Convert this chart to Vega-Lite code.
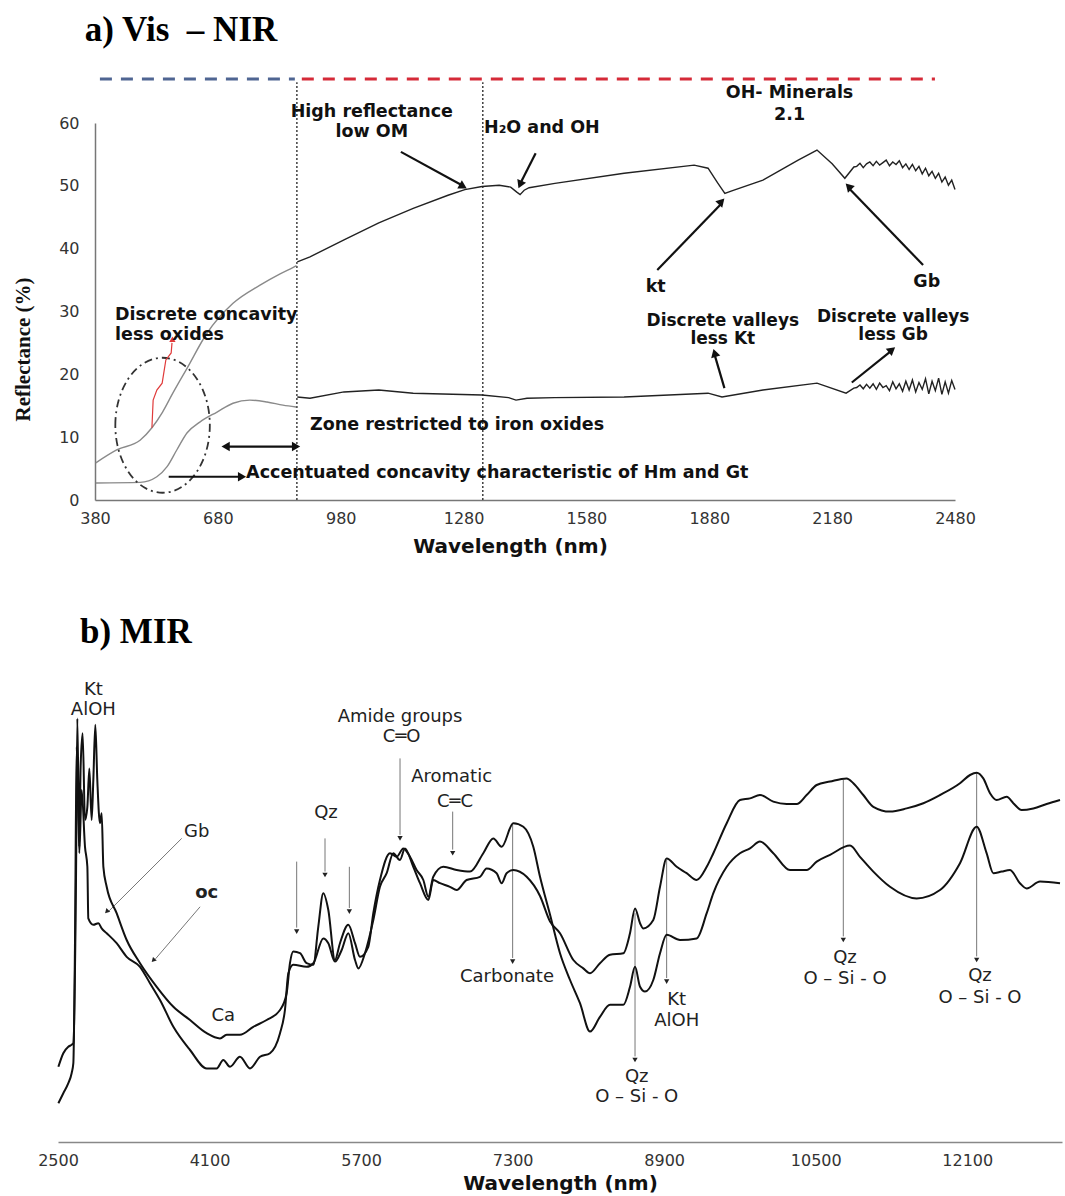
{
"$schema": "https://vega.github.io/schema/vega-lite/v6.json",
"width": 1065, "height": 1196,
"autosize": {"type": "none"},
"padding": 0,
"background": "white",
"config": {"view": {"stroke": null}},
"datasets": {
"aCurve": [
{"wl":382,"r":5.9,"s":"uv"},{"wl":434,"r":8.0,"s":"uv"},{"wl":490,"r":9.5,"s":"uv"},{"wl":519,"r":11.5,"s":"uv"},{"wl":545,"r":14.0,"s":"uv"},{"wl":570,"r":17.0,"s":"uv"},{"wl":605,"r":21.0,"s":"uv"},{"wl":653,"r":26.5,"s":"uv"},{"wl":717,"r":31.3,"s":"uv"},{"wl":783,"r":34.2,"s":"uv"},{"wl":832,"r":36.0,"s":"uv"},{"wl":863,"r":37.0,"s":"uv"},{"wl":872,"r":37.3,"s":"uv"},
{"wl":874,"r":37.9,"s":"un"},{"wl":905,"r":38.7,"s":"un"},{"wl":988,"r":41.4,"s":"un"},{"wl":1073,"r":44.1,"s":"un"},{"wl":1157,"r":46.4,"s":"un"},{"wl":1242,"r":48.5,"s":"un"},{"wl":1283,"r":49.4,"s":"un"},{"wl":1325,"r":49.9,"s":"un"},{"wl":1367,"r":50.1,"s":"un"},{"wl":1395,"r":49.8,"s":"un"},{"wl":1410,"r":49.0,"s":"un"},{"wl":1418,"r":48.6,"s":"un"},{"wl":1428,"r":49.3,"s":"un"},{"wl":1440,"r":49.7,"s":"un"},{"wl":1503,"r":50.4,"s":"un"},{"wl":1672,"r":52.0,"s":"un"},{"wl":1843,"r":53.3,"s":"un"},{"wl":1877,"r":52.8,"s":"un"},{"wl":1900,"r":50.5,"s":"un"},{"wl":1918,"r":48.8,"s":"un"},{"wl":1935,"r":49.2,"s":"un"},{"wl":2011,"r":50.9,"s":"un"},{"wl":2097,"r":54.1,"s":"un"},{"wl":2143,"r":55.7,"s":"un"},{"wl":2180,"r":53.5,"s":"un"},{"wl":2211,"r":51.2,"s":"un"},{"wl":2233,"r":53.0,"s":"un"},
{"wl":2240,"r":53.1,"s":"un"},{"wl":2248,"r":53.6,"s":"un"},{"wl":2256,"r":52.9,"s":"un"},{"wl":2264,"r":53.5,"s":"un"},{"wl":2272,"r":53.8,"s":"un"},{"wl":2280,"r":53.2,"s":"un"},{"wl":2288,"r":53.9,"s":"un"},{"wl":2296,"r":53.3,"s":"un"},{"wl":2304,"r":53.7,"s":"un"},{"wl":2312,"r":54.1,"s":"un"},{"wl":2320,"r":53.2,"s":"un"},{"wl":2328,"r":53.8,"s":"un"},{"wl":2336,"r":53.4,"s":"un"},{"wl":2344,"r":54.0,"s":"un"},{"wl":2352,"r":52.9,"s":"un"},{"wl":2360,"r":53.5,"s":"un"},{"wl":2368,"r":52.6,"s":"un"},{"wl":2376,"r":53.4,"s":"un"},{"wl":2384,"r":52.4,"s":"un"},{"wl":2392,"r":53.1,"s":"un"},{"wl":2400,"r":51.9,"s":"un"},{"wl":2408,"r":52.8,"s":"un"},{"wl":2416,"r":51.6,"s":"un"},{"wl":2424,"r":52.3,"s":"un"},{"wl":2432,"r":51.2,"s":"un"},{"wl":2440,"r":52.0,"s":"un"},{"wl":2448,"r":50.6,"s":"un"},{"wl":2456,"r":51.4,"s":"un"},{"wl":2464,"r":50.1,"s":"un"},{"wl":2472,"r":50.9,"s":"un"},{"wl":2480,"r":49.4,"s":"un"},
{"wl":382,"r":2.7,"s":"lv"},{"wl":490,"r":2.8,"s":"lv"},{"wl":531,"r":3.7,"s":"lv"},{"wl":556,"r":5.3,"s":"lv"},{"wl":580,"r":8.0,"s":"lv"},{"wl":605,"r":10.7,"s":"lv"},{"wl":636,"r":12.4,"s":"lv"},{"wl":678,"r":14.0,"s":"lv"},{"wl":717,"r":15.4,"s":"lv"},{"wl":758,"r":15.9,"s":"lv"},{"wl":800,"r":15.6,"s":"lv"},{"wl":839,"r":15.1,"s":"lv"},{"wl":871,"r":14.8,"s":"lv"},
{"wl":874,"r":16.4,"s":"ln"},{"wl":905,"r":16.2,"s":"ln"},{"wl":988,"r":17.2,"s":"ln"},{"wl":1073,"r":17.5,"s":"ln"},{"wl":1157,"r":17.0,"s":"ln"},{"wl":1325,"r":16.7,"s":"ln"},{"wl":1390,"r":16.3,"s":"ln"},{"wl":1408,"r":15.9,"s":"ln"},{"wl":1435,"r":16.2,"s":"ln"},{"wl":1503,"r":16.3,"s":"ln"},{"wl":1672,"r":16.4,"s":"ln"},{"wl":1877,"r":17.0,"s":"ln"},{"wl":1911,"r":16.4,"s":"ln"},{"wl":2011,"r":17.5,"s":"ln"},{"wl":2143,"r":18.6,"s":"ln"},{"wl":2214,"r":17.0,"s":"ln"},{"wl":2233,"r":17.8,"s":"ln"},
{"wl":2240,"r":17.9,"s":"ln"},{"wl":2248,"r":18.3,"s":"ln"},{"wl":2256,"r":17.7,"s":"ln"},{"wl":2264,"r":18.4,"s":"ln"},{"wl":2272,"r":17.8,"s":"ln"},{"wl":2280,"r":18.5,"s":"ln"},{"wl":2288,"r":17.6,"s":"ln"},{"wl":2296,"r":18.6,"s":"ln"},{"wl":2304,"r":17.9,"s":"ln"},{"wl":2312,"r":18.2,"s":"ln"},{"wl":2320,"r":17.4,"s":"ln"},{"wl":2328,"r":18.8,"s":"ln"},{"wl":2336,"r":17.7,"s":"ln"},{"wl":2344,"r":18.5,"s":"ln"},{"wl":2352,"r":17.3,"s":"ln"},{"wl":2360,"r":18.9,"s":"ln"},{"wl":2368,"r":17.5,"s":"ln"},{"wl":2376,"r":19.1,"s":"ln"},{"wl":2384,"r":17.2,"s":"ln"},{"wl":2392,"r":18.7,"s":"ln"},{"wl":2400,"r":17.6,"s":"ln"},{"wl":2408,"r":19.3,"s":"ln"},{"wl":2416,"r":16.9,"s":"ln"},{"wl":2424,"r":18.9,"s":"ln"},{"wl":2432,"r":17.4,"s":"ln"},{"wl":2440,"r":19.4,"s":"ln"},{"wl":2448,"r":16.8,"s":"ln"},{"wl":2456,"r":18.8,"s":"ln"},{"wl":2464,"r":17.0,"s":"ln"},{"wl":2472,"r":19.0,"s":"ln"},{"wl":2480,"r":17.6,"s":"ln"}
],
"aTextC": [
{"wl":1056,"r":61.8,"t":"High reflectance"},{"wl":1056,"r":58.5,"t":"low OM"},
{"wl":2076,"r":64.7,"t":"OH- Minerals"},{"wl":2076,"r":61.3,"t":"2.1"},
{"wl":1749,"r":33.9,"t":"kt"},{"wl":2411,"r":34.7,"t":"Gb"}
],
"aTextMulti": [
{"wl":1913,"r":28.5,"t":"Discrete valleys\nless Kt"},
{"wl":2329,"r":29.2,"t":"Discrete valleys\nless Gb"}
],
"aTextL": [
{"wl":1330,"r":59.2,"t":"H₂O and OH"},
{"wl":429,"r":29.4,"t":"Discrete concavity"},{"wl":429,"r":26.3,"t":"less oxides"},
{"wl":905,"r":11.9,"t":"Zone restricted to iron oxides"},
{"wl":749,"r":4.3,"t":"Accentuated concavity characteristic of Hm and Gt"}
],
"aArrows": [
{"wl":1127,"r":55.4,"wl2":1276,"r2":50.1},
{"wl":1456,"r":55.2,"wl2":1421,"r2":50.7},
{"wl":1753,"r":36.6,"wl2":1907,"r2":47.0},
{"wl":2402,"r":37.4,"wl2":2224,"r2":49.4},
{"wl":1917,"r":17.8,"wl2":1894,"r2":22.9},
{"wl":2228,"r":18.7,"wl2":2322,"r2":23.6},
{"wl":702,"r":8.5,"wl2":868,"r2":8.5},
{"wl":560,"r":3.7,"wl2":735,"r2":3.7}
],
"redLine": [
{"wl":519,"r":11.5},{"wl":522,"r":15.9},{"wl":531,"r":17.5},{"wl":544,"r":18.6},{"wl":553,"r":22.3},{"wl":566,"r":23.4},{"wl":568,"r":25.0}
],
"bCurve": [
{"wl":2504,"v":18.8,"s":"A"},{"wl":2556,"v":22.2,"s":"A"},{"wl":2609,"v":23.8,"s":"A"},{"wl":2644,"v":24.3,"s":"A"},{"wl":2662,"v":24.7,"s":"A"},{"wl":2690,"v":65.5,"s":"A"},{"wl":2704,"v":105.9,"s":"A"},{"wl":2725,"v":73.8,"s":"A"},{"wl":2739,"v":93.8,"s":"A"},{"wl":2760,"v":102.2,"s":"A"},{"wl":2785,"v":80.5,"s":"A"},{"wl":2810,"v":83.8,"s":"A"},{"wl":2831,"v":93.4,"s":"A"},{"wl":2855,"v":80.5,"s":"A"},{"wl":2873,"v":90.5,"s":"A"},{"wl":2894,"v":104.3,"s":"A"},{"wl":2915,"v":90.5,"s":"A"},{"wl":2943,"v":79.7,"s":"A"},{"wl":2961,"v":82.2,"s":"A"},{"wl":2979,"v":68.8,"s":"A"},{"wl":3014,"v":63.8,"s":"A"},{"wl":3119,"v":57.2,"s":"A"},{"wl":3225,"v":50.5,"s":"A"},{"wl":3366,"v":44.7,"s":"A"},{"wl":3542,"v":38.8,"s":"A"},{"wl":3718,"v":33.8,"s":"A"},{"wl":3894,"v":30.5,"s":"A"},{"wl":4070,"v":27.2,"s":"A"},{"wl":4210,"v":25.9,"s":"A"},{"wl":4281,"v":26.8,"s":"A"},{"wl":4421,"v":26.8,"s":"A"},{"wl":4562,"v":28.8,"s":"A"},{"wl":4703,"v":30.5,"s":"A"},{"wl":4844,"v":33.0,"s":"A"},{"wl":4914,"v":37.2,"s":"A"},{"wl":4949,"v":44.7,"s":"A"},{"wl":4984,"v":47.6,"s":"A"},{"wl":5055,"v":47.2,"s":"A"},{"wl":5125,"v":44.7,"s":"A"},{"wl":5196,"v":44.3,"s":"A"},{"wl":5248,"v":53.8,"s":"A"},{"wl":5301,"v":62.2,"s":"A"},{"wl":5354,"v":58.0,"s":"A"},{"wl":5424,"v":45.5,"s":"A"},{"wl":5477,"v":49.7,"s":"A"},{"wl":5565,"v":54.3,"s":"A"},{"wl":5636,"v":49.7,"s":"A"},{"wl":5688,"v":46.3,"s":"A"},{"wl":5776,"v":48.8,"s":"A"},{"wl":5829,"v":57.2,"s":"A"},{"wl":5899,"v":65.5,"s":"A"},{"wl":6005,"v":72.2,"s":"A"},{"wl":6075,"v":71.3,"s":"A"},{"wl":6146,"v":73.4,"s":"A"},{"wl":6216,"v":71.3,"s":"A"},{"wl":6286,"v":68.0,"s":"A"},{"wl":6357,"v":65.5,"s":"A"},{"wl":6410,"v":61.3,"s":"A"},{"wl":6462,"v":66.3,"s":"A"},{"wl":6568,"v":68.8,"s":"A"},{"wl":6709,"v":68.0,"s":"A"},{"wl":6850,"v":67.6,"s":"A"},{"wl":6990,"v":72.2,"s":"A"},{"wl":7096,"v":75.9,"s":"A"},{"wl":7184,"v":73.8,"s":"A"},{"wl":7307,"v":79.7,"s":"A"},{"wl":7413,"v":78.8,"s":"A"},{"wl":7518,"v":73.8,"s":"A"},{"wl":7589,"v":66.3,"s":"A"},{"wl":7695,"v":56.8,"s":"A"},{"wl":7800,"v":47.2,"s":"A"},{"wl":7906,"v":40.5,"s":"A"},{"wl":8011,"v":34.7,"s":"A"},{"wl":8117,"v":27.6,"s":"A"},{"wl":8222,"v":31.3,"s":"A"},{"wl":8328,"v":34.3,"s":"A"},{"wl":8469,"v":34.3,"s":"A"},{"wl":8539,"v":38.8,"s":"A"},{"wl":8592,"v":43.8,"s":"A"},{"wl":8645,"v":38.8,"s":"A"},{"wl":8697,"v":37.6,"s":"A"},{"wl":8785,"v":40.5,"s":"A"},{"wl":8856,"v":47.2,"s":"A"},{"wl":8926,"v":51.8,"s":"A"},{"wl":9067,"v":50.5,"s":"A"},{"wl":9243,"v":50.9,"s":"A"},{"wl":9349,"v":57.2,"s":"A"},{"wl":9419,"v":62.2,"s":"A"},{"wl":9560,"v":68.8,"s":"A"},{"wl":9700,"v":72.2,"s":"A"},{"wl":9806,"v":73.4,"s":"A"},{"wl":9911,"v":75.1,"s":"A"},{"wl":10052,"v":72.2,"s":"A"},{"wl":10228,"v":68.0,"s":"A"},{"wl":10404,"v":68.0,"s":"A"},{"wl":10510,"v":70.1,"s":"A"},{"wl":10651,"v":71.8,"s":"A"},{"wl":10862,"v":74.1,"s":"A"},{"wl":10967,"v":71.3,"s":"A"},{"wl":11108,"v":67.6,"s":"A"},{"wl":11284,"v":63.8,"s":"A"},{"wl":11565,"v":60.9,"s":"A"},{"wl":11812,"v":63.0,"s":"A"},{"wl":12023,"v":69.7,"s":"A"},{"wl":12199,"v":78.8,"s":"A"},{"wl":12304,"v":72.2,"s":"A"},{"wl":12375,"v":67.2,"s":"A"},{"wl":12463,"v":67.6,"s":"A"},{"wl":12551,"v":68.0,"s":"A"},{"wl":12656,"v":64.7,"s":"A"},{"wl":12727,"v":63.4,"s":"A"},{"wl":12868,"v":65.1,"s":"A"},{"wl":13079,"v":64.7,"s":"A"},
{"wl":2504,"v":9.7,"s":"B"},{"wl":2556,"v":12.2,"s":"B"},{"wl":2609,"v":14.7,"s":"B"},{"wl":2644,"v":17.2,"s":"B"},{"wl":2662,"v":19.7,"s":"B"},{"wl":2679,"v":48.8,"s":"B"},{"wl":2697,"v":98.8,"s":"B"},{"wl":2725,"v":72.2,"s":"B"},{"wl":2750,"v":88.0,"s":"B"},{"wl":2785,"v":73.8,"s":"B"},{"wl":2810,"v":68.8,"s":"B"},{"wl":2820,"v":55.9,"s":"B"},{"wl":2873,"v":54.3,"s":"B"},{"wl":2926,"v":54.7,"s":"B"},{"wl":2961,"v":53.4,"s":"B"},{"wl":3014,"v":52.2,"s":"B"},{"wl":3119,"v":49.7,"s":"B"},{"wl":3225,"v":46.3,"s":"B"},{"wl":3366,"v":43.8,"s":"B"},{"wl":3471,"v":39.7,"s":"B"},{"wl":3577,"v":35.5,"s":"B"},{"wl":3718,"v":28.8,"s":"B"},{"wl":3894,"v":23.0,"s":"B"},{"wl":4070,"v":18.4,"s":"B"},{"wl":4175,"v":18.4,"s":"B"},{"wl":4245,"v":20.5,"s":"B"},{"wl":4316,"v":18.8,"s":"B"},{"wl":4421,"v":21.3,"s":"B"},{"wl":4527,"v":18.4,"s":"B"},{"wl":4633,"v":21.3,"s":"B"},{"wl":4738,"v":22.2,"s":"B"},{"wl":4844,"v":27.2,"s":"B"},{"wl":4896,"v":33.0,"s":"B"},{"wl":4932,"v":42.2,"s":"B"},{"wl":4984,"v":44.3,"s":"B"},{"wl":5125,"v":43.8,"s":"B"},{"wl":5196,"v":44.7,"s":"B"},{"wl":5301,"v":50.9,"s":"B"},{"wl":5354,"v":49.7,"s":"B"},{"wl":5424,"v":45.1,"s":"B"},{"wl":5495,"v":48.0,"s":"B"},{"wl":5565,"v":52.2,"s":"B"},{"wl":5636,"v":45.5,"s":"B"},{"wl":5671,"v":43.4,"s":"B"},{"wl":5741,"v":47.2,"s":"B"},{"wl":5829,"v":55.5,"s":"B"},{"wl":5899,"v":63.8,"s":"B"},{"wl":5970,"v":67.2,"s":"B"},{"wl":6040,"v":72.2,"s":"B"},{"wl":6110,"v":70.5,"s":"B"},{"wl":6163,"v":73.4,"s":"B"},{"wl":6251,"v":68.8,"s":"B"},{"wl":6322,"v":64.7,"s":"B"},{"wl":6410,"v":60.5,"s":"B"},{"wl":6462,"v":65.5,"s":"B"},{"wl":6533,"v":64.7,"s":"B"},{"wl":6638,"v":63.8,"s":"B"},{"wl":6709,"v":63.0,"s":"B"},{"wl":6814,"v":65.5,"s":"B"},{"wl":6955,"v":66.3,"s":"B"},{"wl":7025,"v":68.4,"s":"B"},{"wl":7131,"v":67.2,"s":"B"},{"wl":7184,"v":64.7,"s":"B"},{"wl":7236,"v":67.2,"s":"B"},{"wl":7307,"v":68.0,"s":"B"},{"wl":7448,"v":66.3,"s":"B"},{"wl":7589,"v":61.5,"s":"B"},{"wl":7695,"v":55.1,"s":"B"},{"wl":7800,"v":52.2,"s":"B"},{"wl":7941,"v":45.5,"s":"B"},{"wl":8046,"v":43.4,"s":"B"},{"wl":8117,"v":42.2,"s":"B"},{"wl":8222,"v":44.7,"s":"B"},{"wl":8328,"v":46.8,"s":"B"},{"wl":8469,"v":47.2,"s":"B"},{"wl":8539,"v":52.2,"s":"B"},{"wl":8592,"v":58.4,"s":"B"},{"wl":8645,"v":54.7,"s":"B"},{"wl":8680,"v":53.4,"s":"B"},{"wl":8785,"v":55.5,"s":"B"},{"wl":8856,"v":63.8,"s":"B"},{"wl":8926,"v":70.9,"s":"B"},{"wl":9032,"v":68.8,"s":"B"},{"wl":9137,"v":67.2,"s":"B"},{"wl":9243,"v":65.5,"s":"B"},{"wl":9349,"v":68.8,"s":"B"},{"wl":9419,"v":72.2,"s":"B"},{"wl":9560,"v":79.7,"s":"B"},{"wl":9700,"v":85.5,"s":"B"},{"wl":9806,"v":85.9,"s":"B"},{"wl":9911,"v":86.75,"s":"B"},{"wl":10052,"v":85.1,"s":"B"},{"wl":10193,"v":84.5,"s":"B"},{"wl":10299,"v":84.5,"s":"B"},{"wl":10404,"v":86.75,"s":"B"},{"wl":10510,"v":89.25,"s":"B"},{"wl":10651,"v":90.1,"s":"B"},{"wl":10826,"v":90.9,"s":"B"},{"wl":10897,"v":89.7,"s":"B"},{"wl":11002,"v":86.75,"s":"B"},{"wl":11108,"v":83.8,"s":"B"},{"wl":11284,"v":82.6,"s":"B"},{"wl":11460,"v":83.4,"s":"B"},{"wl":11636,"v":84.7,"s":"B"},{"wl":11812,"v":86.75,"s":"B"},{"wl":12023,"v":89.7,"s":"B"},{"wl":12129,"v":91.75,"s":"B"},{"wl":12199,"v":92.3,"s":"B"},{"wl":12269,"v":90.9,"s":"B"},{"wl":12340,"v":87.2,"s":"B"},{"wl":12410,"v":85.5,"s":"B"},{"wl":12516,"v":86.3,"s":"B"},{"wl":12586,"v":84.7,"s":"B"},{"wl":12674,"v":83.0,"s":"B"},{"wl":12797,"v":83.4,"s":"B"},{"wl":12938,"v":84.5,"s":"B"},{"wl":13079,"v":85.5,"s":"B"}
],
"bArrows": [
{"wl":3806,"v":75.9,"wl2":3040,"v2":57.8},
{"wl":4000,"v":58.8,"wl2":3530,"v2":45.8},
{"wl":5020,"v":70.1,"wl2":5020,"v2":53.6},
{"wl":5319,"v":75.9,"wl2":5319,"v2":67.6},
{"wl":5576,"v":68.8,"wl2":5576,"v2":58.5},
{"wl":6111,"v":95.9,"wl2":6111,"v2":76.8},
{"wl":6667,"v":82.6,"wl2":6667,"v2":73.1},
{"wl":7300,"v":79.25,"wl2":7300,"v2":46.0},
{"wl":8592,"v":57.2,"wl2":8592,"v2":21.4},
{"wl":8926,"v":70.5,"wl2":8926,"v2":41.0},
{"wl":10791,"v":90.5,"wl2":10791,"v2":51.4},
{"wl":12199,"v":92.2,"wl2":12199,"v2":46.4}
],
"bHeadsDown": [
{"wl":5020,"v":52.6},{"wl":5319,"v":66.75},{"wl":5576,"v":57.6},{"wl":6111,"v":75.9},{"wl":6667,"v":72.2},{"wl":7300,"v":45.1},{"wl":8592,"v":20.5},{"wl":8926,"v":40.1},{"wl":10791,"v":50.5},{"wl":12199,"v":45.5}
],
"bText": [
{"wl":2873,"v":113.0,"t":"Kt"},{"wl":2873,"v":108.0,"t":"AlOH"},
{"wl":3964,"v":77.6,"t":"Gb"},{"wl":4245,"v":31.5,"t":"Ca"},
{"wl":5329,"v":82.2,"t":"Qz"},
{"wl":6111,"v":106.3,"t":"Amide groups"},{"wl":6128,"v":101.2,"t":"C═O"},
{"wl":6656,"v":91.2,"t":"Aromatic"},{"wl":6691,"v":85.1,"t":"C═C"},
{"wl":7240,"v":41.25,"t":"Carbonate"},
{"wl":8610,"v":16.3,"t":"Qz"},{"wl":8610,"v":11.3,"t":"O – Si - O"},
{"wl":9032,"v":35.5,"t":"Kt"},{"wl":9032,"v":30.3,"t":"AlOH"},
{"wl":10809,"v":45.9,"t":"Qz"},{"wl":10809,"v":40.7,"t":"O – Si - O"},
{"wl":12234,"v":41.5,"t":"Qz"},{"wl":12234,"v":35.9,"t":"O – Si - O"}
]
},
"layer": [
{
"encoding": {
"x": {"field": "wl", "type": "quantitative",
"scale": {"domain": [380, 2480], "range": [95, 955], "nice": false, "zero": false},
"axis": {"orient": "bottom", "offset": -696, "values": [380,680,980,1280,1580,1880,2180,2480], "format": "d", "ticks": false, "grid": false, "domainColor": "#777", "domainWidth": 1.5, "labelFont": "DejaVu Sans", "labelFontSize": 16, "labelColor": "#333", "labelPadding": 10, "labelFlush": false, "labelOverlap": false, "title": "Wavelength (nm)", "titleFont": "DejaVu Sans", "titleFontSize": 20, "titleFontWeight": "bold", "titleColor": "#111", "titleX": 510, "titleY": 46, "titleBaseline": "middle"}},
"y": {"field": "r", "type": "quantitative",
"scale": {"domain": [0, 60], "range": [500, 123], "nice": false, "zero": false},
"axis": {"orient": "left", "offset": -95, "values": [0,10,20,30,40,50,60], "ticks": false, "grid": false, "domainColor": "#777", "domainWidth": 1.5, "labelFont": "DejaVu Sans", "labelFontSize": 16, "labelColor": "#333", "labelPadding": 16, "labelFlush": false, "title": "Reflectance (%)", "titleFont": "Liberation Serif", "titleFontSize": 21, "titleFontWeight": "bold", "titleColor": "#111", "titleX": -72, "titleY": 349, "titleBaseline": "middle"}}
},
"layer": [
{"data": {"values": [{"wl": 355, "r": 74.8, "t": "a) Vis\u00a0 – NIR"}]}, "mark": {"type": "text", "align": "left", "baseline": "middle", "font": "Liberation Serif", "fontSize": 35, "fontWeight": "bold", "color": "#000"}, "encoding": {"text": {"field": "t"}}},
{"data": {"values": [{"wl": 392, "wl2": 868, "r": 67}]}, "mark": {"type": "rule", "color": "#4f6592", "strokeWidth": 3, "strokeDash": [12, 9]}, "encoding": {"x2": {"field": "wl2"}}},
{"data": {"values": [{"wl": 885, "wl2": 2431, "r": 67}]}, "mark": {"type": "rule", "color": "#d52a38", "strokeWidth": 3, "strokeDash": [12, 9]}, "encoding": {"x2": {"field": "wl2"}}},
{"data": {"values": [{"wl": 873, "r": 0, "r2": 66.5}, {"wl": 1327, "r": 0, "r2": 66.5}]}, "mark": {"type": "rule", "color": "#222", "strokeWidth": 1.3, "strokeDash": [2, 2]}, "encoding": {"y2": {"field": "r2"}}},
{"data": {"name": "aCurve"}, "transform": [{"filter": "datum.s == 'uv' || datum.s == 'lv'"}], "mark": {"type": "line", "color": "#8a8a8a", "strokeWidth": 1.4, "interpolate": "monotone"}, "encoding": {"detail": {"field": "s"}}},
{"data": {"name": "aCurve"}, "transform": [{"filter": "datum.s == 'un' || datum.s == 'ln'"}], "mark": {"type": "line", "color": "#222", "strokeWidth": 1.4}, "encoding": {"detail": {"field": "s"}}},
{"data": {"values": [{"wl": 545, "r": 11.9}]}, "mark": {"type": "point", "shape": "M -0.7 0 A 0.7 1 0 1 1 0.7 0 A 0.7 1 0 1 1 -0.7 0 Z", "size": 18225, "filled": false, "stroke": "#333", "strokeWidth": 1.8, "strokeDash": [8, 4, 2, 4], "opacity": 1}, "encoding": {}},
{"data": {"name": "redLine"}, "mark": {"type": "line", "color": "#e03a3a", "strokeWidth": 1.2}, "encoding": {}},
{"data": {"values": [{"wl": 569, "r": 25.6}]}, "mark": {"type": "point", "shape": "triangle-up", "filled": true, "color": "#e03a3a", "size": 40, "opacity": 1}, "encoding": {}},
{"data": {"name": "aArrows"}, "mark": {"type": "rule", "color": "#111", "strokeWidth": 2.2}, "encoding": {"x2": {"field": "wl2"}, "y2": {"field": "r2"}}},
{"data": {"values": [{"wl": 1279, "r": 49.9}]}, "mark": {"type": "point", "shape": "triangle-up", "filled": true, "color": "#111", "size": 90, "angle": 119, "opacity": 1}, "encoding": {}},
{"data": {"values": [{"wl": 1418, "r": 50.2}]}, "mark": {"type": "point", "shape": "triangle-up", "filled": true, "color": "#111", "size": 90, "angle": 203, "opacity": 1}, "encoding": {}},
{"data": {"values": [{"wl": 1910, "r": 47.5}]}, "mark": {"type": "point", "shape": "triangle-up", "filled": true, "color": "#111", "size": 90, "angle": 43, "opacity": 1}, "encoding": {}},
{"data": {"values": [{"wl": 2220, "r": 49.9}]}, "mark": {"type": "point", "shape": "triangle-up", "filled": true, "color": "#111", "size": 90, "angle": 316, "opacity": 1}, "encoding": {}},
{"data": {"values": [{"wl": 1893, "r": 23.4}]}, "mark": {"type": "point", "shape": "triangle-up", "filled": true, "color": "#111", "size": 90, "angle": 344, "opacity": 1}, "encoding": {}},
{"data": {"values": [{"wl": 2326, "r": 23.9}]}, "mark": {"type": "point", "shape": "triangle-up", "filled": true, "color": "#111", "size": 90, "angle": 51, "opacity": 1}, "encoding": {}},
{"data": {"values": [{"wl": 871, "r": 8.5}, {"wl": 739, "r": 3.7}]}, "mark": {"type": "point", "shape": "triangle-up", "filled": true, "color": "#111", "size": 90, "angle": 90, "opacity": 1}, "encoding": {}},
{"data": {"values": [{"wl": 699, "r": 8.5}]}, "mark": {"type": "point", "shape": "triangle-up", "filled": true, "color": "#111", "size": 90, "angle": 270, "opacity": 1}, "encoding": {}},
{"data": {"name": "aTextC"}, "mark": {"type": "text", "align": "center", "baseline": "middle", "font": "DejaVu Sans", "fontSize": 17.5, "fontWeight": "bold", "color": "#111"}, "encoding": {"text": {"field": "t"}}},
{"data": {"name": "aTextMulti"}, "mark": {"type": "text", "align": "center", "baseline": "middle", "lineBreak": "\n", "lineHeight": 18, "font": "DejaVu Sans", "fontSize": 17, "fontWeight": "bold", "color": "#111"}, "encoding": {"text": {"field": "t"}}},
{"data": {"name": "aTextL"}, "mark": {"type": "text", "align": "left", "baseline": "middle", "font": "DejaVu Sans", "fontSize": 17.5, "fontWeight": "bold", "color": "#111"}, "encoding": {"text": {"field": "t"}}}
]
},
{
"encoding": {
"x": {"field": "wl", "type": "quantitative",
"scale": {"domain": [2500, 13100], "range": [58, 1062], "nice": false, "zero": false},
"axis": {"orient": "bottom", "offset": -54, "values": [2500,4100,5700,7300,8900,10500,12100], "format": "d", "ticks": false, "grid": false, "domainColor": "#888", "domainWidth": 1.5, "labelFont": "DejaVu Sans", "labelFontSize": 16, "labelColor": "#333", "labelPadding": 10, "labelFlush": false, "labelOverlap": false, "title": "Wavelength (nm)", "titleFont": "DejaVu Sans", "titleFontSize": 20, "titleFontWeight": "bold", "titleColor": "#111", "titleX": 560, "titleY": 41, "titleBaseline": "middle"}},
"y": {"field": "v", "type": "quantitative",
"scale": {"domain": [0, 120], "range": [1142, 662], "nice": false, "zero": false},
"axis": null}
},
"layer": [
{"data": {"values": [{"wl": 2732, "v": 127.5, "t": "b) MIR"}]}, "mark": {"type": "text", "align": "left", "baseline": "middle", "font": "Liberation Serif", "fontSize": 35, "fontWeight": "bold", "color": "#000"}, "encoding": {"text": {"field": "t"}}},
{"data": {"name": "bArrows"}, "mark": {"type": "rule", "color": "#777", "strokeWidth": 1}, "encoding": {"x2": {"field": "wl2"}, "y2": {"field": "v2"}}},
{"data": {"name": "bHeadsDown"}, "mark": {"type": "point", "shape": "triangle-down", "filled": true, "color": "#222", "size": 28, "opacity": 1}, "encoding": {}},
{"data": {"values": [{"wl": 3014, "v": 57.6}, {"wl": 3506, "v": 45.4}]}, "mark": {"type": "point", "shape": "triangle-up", "filled": true, "color": "#222", "size": 28, "angle": 224, "opacity": 1}, "encoding": {}},
{"data": {"name": "bCurve"}, "mark": {"type": "line", "color": "#111", "strokeWidth": 2, "interpolate": "monotone"}, "encoding": {"detail": {"field": "s"}}},
{"data": {"name": "bText"}, "mark": {"type": "text", "align": "center", "baseline": "middle", "font": "DejaVu Sans", "fontSize": 18, "color": "#222"}, "encoding": {"text": {"field": "t"}}},
{"data": {"values": [{"wl": 4070, "v": 62.2, "t": "oc"}]}, "mark": {"type": "text", "align": "center", "baseline": "middle", "font": "DejaVu Sans", "fontSize": 18, "fontWeight": "bold", "color": "#222"}, "encoding": {"text": {"field": "t"}}}
]
}
],
"resolve": {"scale": {"x": "independent", "y": "independent"}, "axis": {"x": "independent", "y": "independent"}}
}
